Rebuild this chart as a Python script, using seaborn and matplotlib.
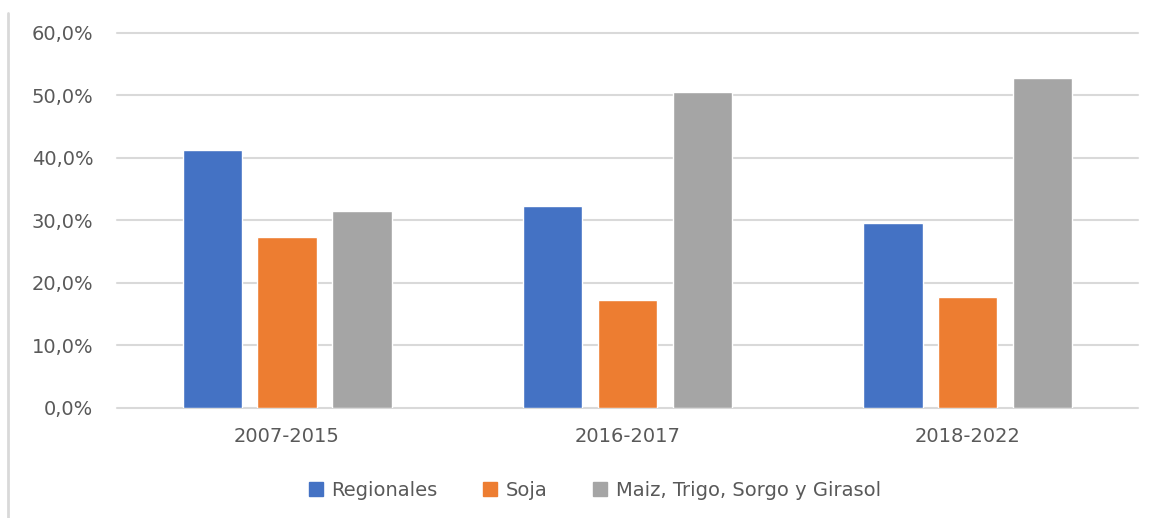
import numpy as np
import pandas as pd
import matplotlib
matplotlib.use("Agg")
import matplotlib.pyplot as plt
import matplotlib.ticker as mticker
from matplotlib.lines import Line2D
import seaborn as sns


# =====================================================
# DATA
# =====================================================

periods = ["2007-2015", "2016-2017", "2018-2022"]
series = ["Regionales", "Soja", "Maiz, Trigo, Sorgo y Girasol"]

regionales = [41.2, 32.3, 29.5]
soja = [27.3, 17.3, 17.8]
maiz_trigo = [31.5, 50.5, 52.7]

colors = ["#4472C4", "#ED7D31", "#A5A5A5"]


# =====================================================
# BUILD TABLE
# =====================================================

df = pd.DataFrame({
    "Periodo": periods * 3,
    "Serie": [series[0]] * 3 + [series[1]] * 3 + [series[2]] * 3,
    "Valor": regionales + soja + maiz_trigo,
})


# =====================================================
# PLOT
# =====================================================

sns.set_style("white")
plt.rcParams["font.family"] = ["DejaVu Sans"]

fig = plt.figure(figsize=(11.57, 5.18), dpi=100)
ax = fig.add_axes([0.101, 0.2124, 0.8826, 0.7245])

sns.barplot(
    data=df,
    x="Periodo",
    y="Valor",
    hue="Serie",
    hue_order=series,
    order=periods,
    palette=colors,
    width=0.66,
    gap=0.21,
    saturation=1,
    ax=ax,
    legend=False
)

ax.set_ylim(0, 60)
ax.set_xlim(-0.5, 2.5)
ax.yaxis.set_major_locator(mticker.MultipleLocator(10))
ax.yaxis.set_major_formatter(
    mticker.FuncFormatter(lambda v, p: f"{v:.1f}%".replace(".", ","))
)

ax.grid(axis="y", color="#D9D9D9", linewidth=1.5, zorder=0)
ax.set_axisbelow(True)
for gl in ax.get_ygridlines():
    gl.set_clip_on(False)

for side in ["top", "right", "left", "bottom"]:
    ax.spines[side].set_visible(False)

ax.tick_params(axis="both", length=0, labelsize=14, colors="#595959")
ax.tick_params(axis="y", pad=17)
ax.tick_params(axis="x", pad=14)
ax.set_xlabel("")
ax.set_ylabel("")

# legend with square handles
handles = [
    Line2D([0], [0], marker="s", linestyle="", markersize=10,
           markerfacecolor=c, markeredgecolor=c)
    for c in colors
]
fig.legend(
    handles,
    series,
    loc="center",
    bbox_to_anchor=(0.513, 0.054),
    ncol=3,
    frameon=False,
    fontsize=14,
    labelcolor="#595959",
    handletextpad=0.3,
    columnspacing=2.2,
    handlelength=1.0
)

# frame border on the left
fig.add_artist(Line2D([0.007, 0.007], [0.0, 0.975], color="#D9D9D9",
                      linewidth=2, transform=fig.transFigure))

plt.savefig("out.png", dpi=100)
plt.close()
